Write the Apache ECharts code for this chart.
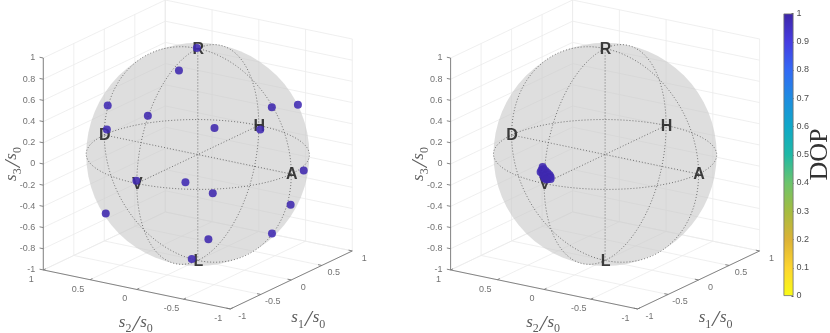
<!DOCTYPE html>
<html>
<head>
<meta charset="utf-8">
<style>
    html, body { margin: 0; padding: 0; background: #fff; }
    #main { width: 830px; height: 333px; }
</style>
</head>
<body>
<div id="main"></div>
<script src="https://cdn.jsdelivr.net/npm/echarts@6/dist/echarts.min.js"></script>
<script>
    // left sphere: scattered states
    const leftS1 = [-0.404, -0.649, -0.811, -0.816, -0.014, 0.608, -0.620, 0.999, 0.254, -0.999, -0.891, -0.735, -0.551, -0.757, 0.069, -0.024, -0.660, 0.008];
    const leftS2 = [-0.062, 0.540, 0.005, 0.440, -0.801, -0.674, -0.583, -0.016, -0.967, 0.005, -0.449, 0.505, -0.295, -0.654, -0.948, -0.809, -0.544, 0.015];
    const leftS3 = [0.914, 0.540, 0.586, 0.377, 0.597, 0.427, 0.526, -0.035, -0.042, 0.025, 0.065, -0.449, -0.781, -0.039, -0.318, -0.591, -0.520, 1.0];
    const leftDop = [0.99, 0.98, 0.99, 0.98, 0.99, 0.98, 0.99, 0.98, 0.99, 0.99, 0.98, 0.99, 0.98, 0.99, 0.99, 0.98, 0.99, 0.98];

    // right sphere: states bunched near V
    const rightS1 = [-0.99, -0.99, -0.99, -0.99, -0.99, -0.99, -0.99, -0.99, -0.99, -0.99, -0.99, -0.99, -0.99, -0.99, -0.99, -0.99, -0.99, -0.99, -0.99];
    const rightS2 = [0.022, 0.012, 0.033, 0.044, 0.012, -0.010, 0.022, 0.001, -0.031, -0.020, -0.052, 0.012, -0.010, -0.042, -0.063, -0.031, 0.001, -0.063, -0.020];
    const rightS3 = [0.149, 0.132, 0.118, 0.098, 0.103, 0.117, 0.083, 0.086, 0.102, 0.081, 0.087, 0.066, 0.060, 0.061, 0.070, 0.045, 0.044, 0.051, 0.039];
    const rightDop = [0.99, 0.98, 0.99, 0.98, 0.99, 0.98, 0.99, 0.98, 0.99, 0.99, 0.98, 0.99, 0.98, 0.99, 0.99, 0.98, 0.99, 0.98, 0.99];

    const xyTicks = [-1, -0.5, 0, 0.5, 1];
    const zTicks = [-1, -0.8, -0.6, -0.4, -0.2, 0, 0.2, 0.4, 0.6, 0.8, 1];
    const poles = [['R', 0, 0, 1], ['L', 0, 0, -1], ['H', 1, 0, 0], ['V', -1, 0, 0], ['D', 0, 1, 0], ['A', 0, -1, 0]];

    const dopTicks = [0, 0.1, 0.2, 0.3, 0.4, 0.5, 0.6, 0.7, 0.8, 0.9, 1];
    const dopColors = ['#f9fb15', '#fdd52f', '#dcb236', '#a5bc40', '#6cc46c', '#1fb9a6', '#0fa8c8', '#1e8ce0', '#3269f5', '#463ce1', '#3e26a8'];

    const labelFont = 'Liberation Sans';
    const mathFont = 'Liberation Serif';

    // camera of the reference, orthographic
    const viewRight = [0.5466, -0.8378, 0];
    const viewUp = [0.2599, 0.1747, 0.9498];
    function project(s1, s2, s3) {
        return [
            s1 * viewRight[0] + s2 * viewRight[1] + s3 * viewRight[2],
            s1 * viewUp[0] + s2 * viewUp[1] + s3 * viewUp[2]
        ];
    }
    function segment(a, b) {
        return { coords: [project(a[0], a[1], a[2]), project(b[0], b[1], b[2])] };
    }
    function circle(fn) {
        let pts = [];
        for (let i = 0; i <= 120; i++) {
            let t = i / 120 * Math.PI * 2;
            let p = fn(Math.cos(t), Math.sin(t));
            pts.push(project(p[0], p[1], p[2]));
        }
        return { coords: pts };
    }

    function mathTitle(n) {
        return '{s|s}{sub|' + n + '}{slash|/}{s|s}{sub|0}';
    }
    const mathRich = {
        s: { fontFamily: mathFont, fontStyle: 'italic', fontSize: 17, color: '#333', verticalAlign: 'top', lineHeight: 17 },
        sub: { fontFamily: mathFont, fontSize: 12, color: '#333', verticalAlign: 'bottom', padding: [9, 0, 0, 0], lineHeight: 12 },
        slash: { fontFamily: mathFont, fontStyle: 'italic', fontSize: 24, color: '#333', lineHeight: 21, padding: [0, 1, 0, 1] }
    };

    function textSeries(idx, rows, offset, extra) {
        return {
            type: 'scatter',
            xAxisIndex: idx,
            yAxisIndex: idx,
            silent: true,
            symbolSize: 1,
            itemStyle: { color: 'transparent' },
            z: extra.z || 3,
            data: rows.map(r => {
                let p = project(r[1], r[2], r[3]);
                return { value: [p[0], p[1]], name: r[0] };
            }),
            label: Object.assign({
                show: true,
                position: 'inside',
                offset: offset,
                formatter: '{b}',
                fontFamily: labelFont,
                fontSize: 9,
                color: '#4d4d4d',
                align: 'center',
                verticalAlign: 'middle'
            }, extra.label)
        };
    }

    function panelSeries(idx, s1, s2, s3, dop) {
        let wall = [], axes = [];
        xyTicks.forEach(t => {
            wall.push(segment([t, 1, -1], [t, 1, 1]));
            wall.push(segment([1, t, -1], [1, t, 1]));
            wall.push(segment([t, -1, -1], [t, 1, -1]));
            wall.push(segment([-1, t, -1], [1, t, -1]));
            axes.push(segment([-1, t, -1], [-0.96, t, -1]));
            axes.push(segment([t, -1, -1], [t, -0.96, -1]));
        });
        zTicks.forEach(t => {
            wall.push(segment([-1, 1, t], [1, 1, t]));
            wall.push(segment([1, -1, t], [1, 1, t]));
            axes.push(segment([-1, 1, t], [-1, 1.04, t]));
        });
        axes.push(segment([-1, 1, -1], [-1, 1, 1]));
        axes.push(segment([-1, 1, -1], [-1, -1, -1]));
        axes.push(segment([-1, -1, -1], [1, -1, -1]));

        let guides = [
            circle((c, s) => [c, s, 0]),
            circle((c, s) => [c, 0, s]),
            circle((c, s) => [0, c, s]),
            segment([-1, 0, 0], [1, 0, 0]),
            segment([0, -1, 0], [0, 1, 0]),
            segment([0, 0, -1], [0, 0, 1])
        ];

        return [
            {
                type: 'lines', coordinateSystem: 'cartesian2d', xAxisIndex: idx, yAxisIndex: idx,
                polyline: true, silent: true, z: 1,
                lineStyle: { color: '#ebebeb', width: 0.8, opacity: 1 },
                data: wall
            },
            {
                type: 'custom', xAxisIndex: idx, yAxisIndex: idx, silent: true, z: 2, clip: false,
                data: [[0, 0, 1]],
                renderItem: function (params, api) {
                    let c = api.coord([api.value(0), api.value(1)]);
                    let r = api.size([api.value(2), 0])[0];
                    return {
                        type: 'circle',
                        shape: { cx: c[0], cy: c[1], r: r },
                        style: { fill: 'rgba(200,200,200,0.6)' }
                    };
                }
            },
            {
                type: 'lines', coordinateSystem: 'cartesian2d', xAxisIndex: idx, yAxisIndex: idx,
                polyline: true, silent: true, z: 3,
                lineStyle: { color: '#777', width: 0.9, opacity: 1 },
                data: axes
            },
            {
                type: 'lines', coordinateSystem: 'cartesian2d', xAxisIndex: idx, yAxisIndex: idx,
                polyline: true, silent: true, z: 4,
                lineStyle: { color: '#555', width: 0.8, type: [1, 2], opacity: 1 },
                data: guides
            },
            textSeries(idx, poles.map(p => [p[0], p[1], p[2], p[3]]), [0.5, 1], {
                z: 5,
                label: { fontSize: 16, fontWeight: 'bold', color: '#111' }
            }),
            {
                type: 'scatter', xAxisIndex: idx, yAxisIndex: idx, silent: true, z: 6,
                symbolSize: 8,
                itemStyle: { opacity: 0.88 },
                data: s1.map((v, i) => {
                    let p = project(v, s2[i], s3[i]);
                    return [p[0], p[1], dop[i]];
                })
            },
            textSeries(idx, zTicks.map(t => [String(t), -1, 1, t]), [-8, 0], { label: { align: 'right' } }),
            textSeries(idx, xyTicks.map(t => [String(t), t, -1, -1]), [12, 7.2], {}),
            textSeries(idx, xyTicks.map(t => [String(t), -1, t, -1]), [-12, 9.5], {}),
            textSeries(idx, [[mathTitle(2), -1, 0, -1]], [-1, 35], { label: { formatter: mathTitle(2), rich: mathRich } }),
            textSeries(idx, [[mathTitle(1), 0, -1, -1]], [17, 40], { label: { formatter: mathTitle(1), rich: mathRich } }),
            // offset of a rotated label turns with it
            textSeries(idx, [[mathTitle(3), -1, 1, 0]], [0, -30], { label: { formatter: mathTitle(3), rich: mathRich, rotate: 90 } })
        ];
    }

    const scale = 111.6;
    const centerX = 197.8;
    const panelGap = 407.3;
    const xSpan = 1.7, yTop = 1.38, yBottom = 1.6;

    function panelGrid(i) {
        return {
            left: centerX + i * panelGap - xSpan * scale,
            top: 154.5 - yTop * scale,
            width: 2 * xSpan * scale,
            height: (yTop + yBottom) * scale
        };
    }
    function hiddenValue(min, max, gridIndex) {
        return { type: 'value', min: min, max: max, show: false, gridIndex: gridIndex };
    }

    let series = panelSeries(0, leftS1, leftS2, leftS3, leftDop).concat(panelSeries(1, rightS1, rightS2, rightS3, rightDop));
    let dotSeries = [];
    series.forEach((s, i) => { if (s.type === 'scatter' && s.symbolSize > 1) dotSeries.push(i); });

    // colourbar
    series.push({
        type: 'bar',
        xAxisIndex: 2,
        yAxisIndex: 2,
        silent: true,
        barWidth: '100%',
        data: [1],
        itemStyle: {
            borderColor: '#707070',
            borderWidth: 0.8,
            color: new echarts.graphic.LinearGradient(0, 1, 0, 0, dopColors.map((c, i) => ({ offset: dopTicks[i], color: c })))
        }
    });

    let myChart = echarts.init(document.getElementById('main'), null, { renderer: 'canvas' });
    myChart.setOption({
        animation: false,
        backgroundColor: '#fff',
        textStyle: { fontFamily: labelFont },
        grid: [panelGrid(0), panelGrid(1), { left: 783.5, top: 13.5, width: 10, height: 282.5 }],
        xAxis: [
            hiddenValue(-xSpan, xSpan, 0),
            hiddenValue(-xSpan, xSpan, 1),
            { type: 'category', gridIndex: 2, data: ['DOP'], show: false }
        ],
        yAxis: [
            hiddenValue(-yBottom, yTop, 0),
            hiddenValue(-yBottom, yTop, 1),
            {
                type: 'value', gridIndex: 2, position: 'right', min: 0, max: 1, interval: 0.1,
                splitLine: { show: false },
                axisLine: { show: false },
                axisTick: { show: true, inside: true, length: 2, lineStyle: { color: '#333', width: 0.8 } },
                axisLabel: { fontSize: 9, color: '#4d4d4d', margin: 3, fontFamily: labelFont }
            }
        ],
        visualMap: {
            show: false,
            type: 'continuous',
            min: 0,
            max: 1,
            dimension: 2,
            seriesIndex: dotSeries,
            inRange: { color: dopColors }
        },
        graphic: [{
            type: 'text',
            x: 820,
            y: 154.5,
            rotation: Math.PI / 2,
            style: {
                text: 'DOP',
                fontFamily: mathFont,
                fontSize: 26,
                fill: '#333',
                align: 'center',
                verticalAlign: 'middle'
            }
        }],
        series: series
    });
</script>
</body>
</html>
